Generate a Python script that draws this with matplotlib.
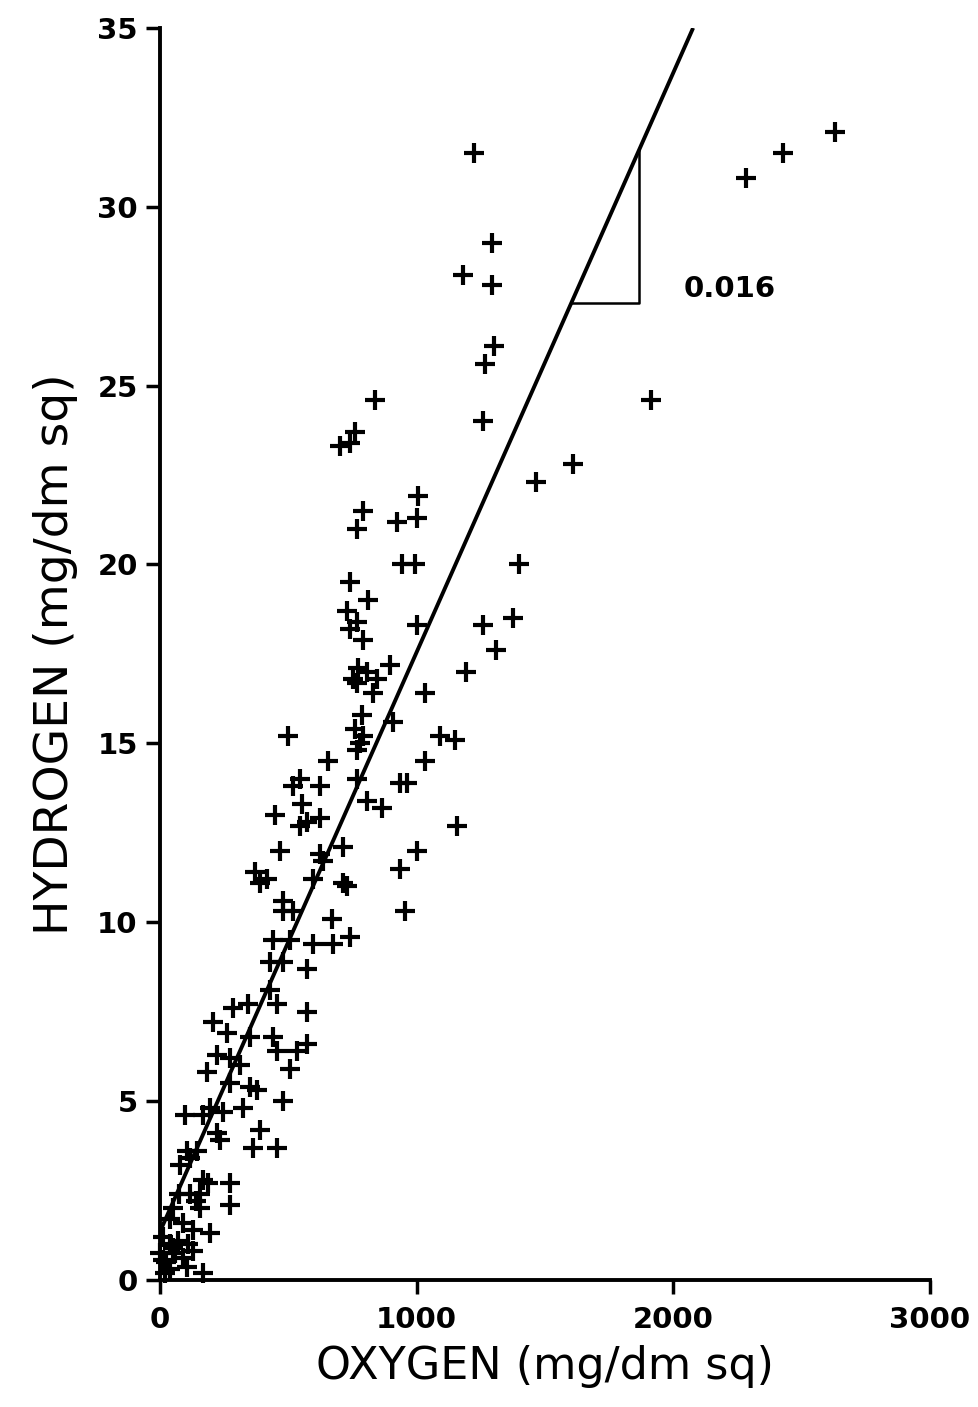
import matplotlib
matplotlib.use('Agg')
import matplotlib.pyplot as plt
import numpy as np

# oxygen (mg/dm sq) vs hydrogen (mg/dm sq)
oxygen = [1225, 1179, 1292, 1295, 1303, 1268, 1257, 2630, 2427, 2283,
          1914, 1610, 1463, 1400, 1377, 1260, 1311, 1194, 1151, 1089,
          1159, 836, 700, 739, 759, 1004, 1000, 922, 790, 766,
          941, 992, 739, 809, 727, 766, 739, 790, 1000, 770,
          805, 895, 751, 844, 498, 1031, 1031, 934, 961, 1000,
          934, 953, 654, 545, 517, 622, 552, 447, 572, 622,
          545, 467, 622, 712, 634, 805, 864, 766, 786, 759,
          790, 778, 766, 829, 766, 906, 370, 416, 595, 712,
          389, 727, 478, 517, 478, 669, 440, 506, 595, 673,
          739, 428, 478, 572, 428, 455, 572, 284, 342, 206,
          261, 350, 440, 455, 572, 533, 506, 222, 272, 183,
          311, 97, 478, 455, 272, 272, 187, 156, 194, 105,
          167, 128, 89, 222, 272, 350, 377, 323, 245, 194,
          167, 362, 389, 233, 144, 117, 78, 167, 117, 156,
          51, 39, 128, 12, 39, 0, 12, 39, 105, 60,
          25, 70, 90, 50, 20, 140, 110, 75]
hydrogen = [31.5, 28.1, 29.0, 27.8, 26.1, 25.6, 24.0, 32.1, 31.5, 30.8,
            24.6, 22.8, 22.3, 20.0, 18.5, 18.3, 17.6, 17.0, 15.1, 15.2,
            12.7, 24.6, 23.3, 23.4, 23.7, 21.9, 21.3, 21.2, 21.5, 21.0,
            20.0, 20.0, 19.5, 19.0, 18.7, 18.4, 18.2, 17.9, 18.3, 17.1,
            17.0, 17.2, 16.8, 16.8, 15.2, 16.4, 14.5, 13.9, 13.9, 12.0,
            11.5, 10.3, 14.5, 14.0, 13.8, 13.8, 13.3, 13.0, 12.8, 12.9,
            12.7, 12.0, 11.9, 12.1, 11.7, 13.4, 13.2, 14.0, 15.8, 15.4,
            15.2, 15.0, 14.8, 16.4, 16.7, 15.6, 11.4, 11.2, 11.2, 11.1,
            11.1, 11.0, 10.6, 10.3, 10.3, 10.1, 9.5, 9.5, 9.4, 9.4,
            9.6, 8.9, 8.9, 8.7, 8.1, 7.7, 7.5, 7.6, 7.7, 7.2,
            6.9, 6.8, 6.8, 6.4, 6.6, 6.4, 5.9, 6.3, 6.2, 5.8,
            6.0, 4.6, 5.0, 3.7, 2.7, 2.1, 2.7, 2.4, 1.3, 3.6,
            0.2, 0.8, 0.6, 4.1, 5.5, 5.4, 5.3, 4.8, 4.7, 4.8,
            4.6, 3.7, 4.2, 3.9, 3.6, 3.4, 3.2, 2.8, 2.4, 2.0,
            2.0, 1.7, 1.4, 1.2, 1.0, 0.75, 0.55, 0.3, 0.35, 0.75,
            0.5, 1.1, 1.6, 0.9, 0.2, 2.2, 1.0, 2.4]

# fitted line (slope marked as 0.016 on the chart)
fit_intercept = 1.35
fit_slope = 0.0162
fit_x = [0, 2077]

xticks = [0, 1000, 2000, 3000]
yticks = [0, 5, 10, 15, 20, 25, 30, 35]

fig = plt.figure(figsize=(9.79, 14.07), dpi=100)
ax = fig.add_axes([0.1634, 0.0903, 0.7866, 0.8899])

ax.plot(oxygen, hydrogen, linestyle='none', marker='+', color='black',
        markersize=15, markeredgewidth=3.0, clip_on=False, zorder=3)

fx = np.array(fit_x)
ax.plot(fx, fit_intercept + fit_slope * fx, color='black', linewidth=2.8,
        solid_capstyle='butt')

# slope triangle
tx1, tx2 = 1603, 1867
ty1 = fit_intercept + fit_slope * tx1
ty2 = fit_intercept + fit_slope * tx2
ax.plot([tx1, tx2, tx2], [ty1, ty1, ty2], color='black', linewidth=1.8)
ax.text(2040, 27.7, '0.016', fontsize=21, fontweight='bold',
        va='center', ha='left')

ax.set_xlim(0, 3000)
ax.set_ylim(0, 35)
ax.set_xticks(xticks)
ax.set_yticks(yticks)
for lab in ax.get_xticklabels() + ax.get_yticklabels():
    lab.set_fontweight('bold')
ax.tick_params(axis='both', direction='out', length=10, width=2.5,
               labelsize=21, pad=6)
ax.tick_params(axis='x', pad=9)

ax.spines['top'].set_visible(False)
ax.spines['right'].set_visible(False)
ax.spines['left'].set_linewidth(2.8)
ax.spines['bottom'].set_linewidth(2.8)

ax.set_xlabel('OXYGEN (mg/dm sq)', fontsize=32, labelpad=8)
ax.set_ylabel('HYDROGEN (mg/dm sq)', fontsize=34, labelpad=14)

fig.savefig('out.png', dpi=100)
